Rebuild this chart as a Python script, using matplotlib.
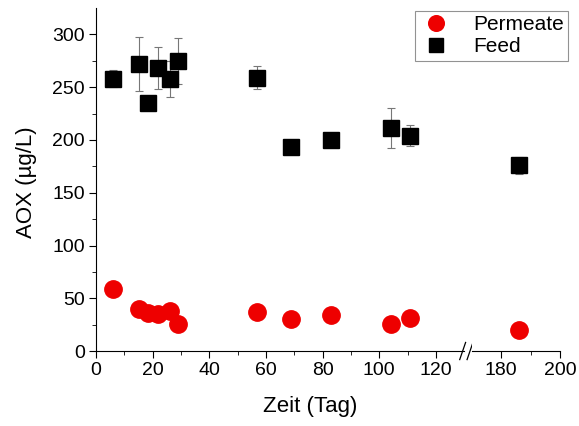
import numpy as np
import matplotlib.pyplot as plt

plt.rcParams['font.family'] = ['Liberation Sans', 'DejaVu Sans']

# Daten
tage = [6, 15, 18.5, 22, 26, 29, 57, 69, 83, 104, 111, 186]
permeat = [59, 40, 36, 35, 38, 26, 37, 30, 34, 26, 31, 20]
feed = [258, 272, 235, 268, 258, 275, 259, 193, 200, 211, 204, 176]
feed_err = [8, 26, 0, 20, 17, 22, 11, 0, 0, 19, 10, 8]

fig = plt.figure(figsize=(5.79, 4.26), dpi=100)
ax1 = fig.add_axes([0.166, 0.176, 0.6356, 0.805])
ax2 = fig.add_axes([0.815, 0.176, 0.152, 0.805], sharey=ax1)

for ax in (ax1, ax2):
    ax.errorbar(tage, feed, yerr=feed_err, fmt='none', ecolor='#777777',
                elinewidth=0.8, capsize=3, capthick=0.8, zorder=2)
    ax.plot(tage, feed, 's', color='black', markersize=11, label='Feed', zorder=3)
    ax.plot(tage, permeat, 'o', color='#ee0000', markersize=12.5,
            label='Permeate', zorder=3)
    ax.spines['top'].set_visible(False)
    ax.spines['right'].set_visible(False)
    ax.tick_params(direction='out', labelsize=14, length=5, pad=3)
    ax.tick_params(which='minor', direction='out', length=3)

ax1.set_xlim(0, 130)
ax2.set_xlim(170, 200)
ax1.set_ylim(0, 325)
ax1.set_xticks([0, 20, 40, 60, 80, 100, 120])
ax1.set_xticks(np.arange(10, 130, 20), minor=True)
ax2.set_xticks([180, 200])
ax2.set_xticks([190], minor=True)
ax1.set_yticks([0, 50, 100, 150, 200, 250, 300])
ax1.set_yticks(np.arange(25, 325, 50), minor=True)
ax2.spines['left'].set_visible(False)
ax2.tick_params(axis='y', which='both', left=False, labelleft=False)

# Achsenbruch
kw = dict(color='black', lw=0.9, clip_on=False)
for xb in (1.0, 1.02):
    ax1.plot([xb - 0.012, xb + 0.004], [-0.025, 0.025], transform=ax1.transAxes, **kw)

fig.text(0.045, 0.573, 'AOX (µg/L)', fontsize=16, rotation=90, va='center', ha='center')
fig.text(0.535, 0.033, 'Zeit (Tag)', fontsize=16, ha='center')

h, l = ax1.get_legend_handles_labels()
leg = fig.legend([h[1], h[0]], [l[1], l[0]], loc='upper right',
                 bbox_to_anchor=(0.981, 0.974), borderaxespad=0, markerscale=0.9,
                 fontsize=15, fancybox=False, edgecolor='#777777',
                 handletextpad=1.0, borderpad=0.2, labelspacing=0.15,
                 handlelength=1.6)
leg.get_frame().set_linewidth(0.8)

fig.savefig('out.png', dpi=100)
